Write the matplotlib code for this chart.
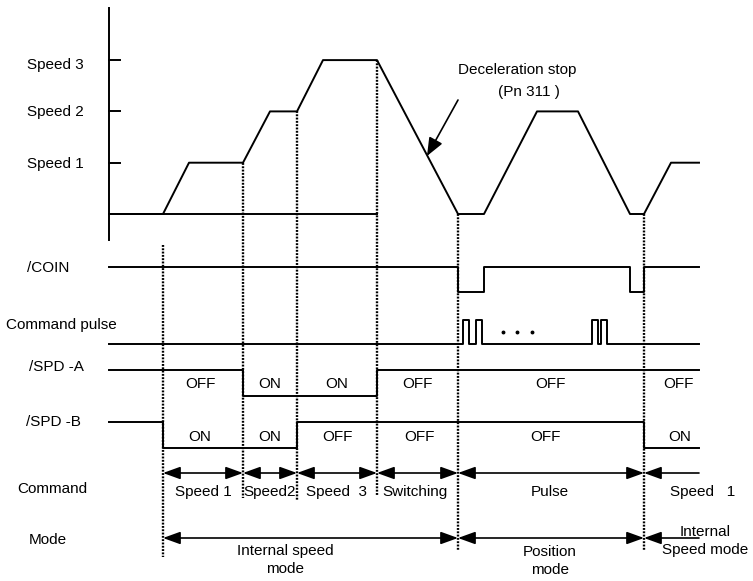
import matplotlib
matplotlib.use("Agg")
import matplotlib.pyplot as plt
import numpy as np

# ---------------- data ----------------
speed_levels = ["Speed 1", "Speed 2", "Speed 3"]
speed_t = [109, 163, 189, 243, 270, 297, 323, 377, 458, 484, 537, 578, 630, 644, 671, 699]
speed_v = [0, 0, 1, 1, 2, 2, 3, 3, 0, 0, 2, 2, 0, 0, 1, 1]

coin_t = [109, 458, 484, 630, 644, 699]
coin_v = [1, 0, 1, 0, 1, 1]

pulse_edges = [(463, 469), (476, 482), (592, 598), (601, 607)]
pulse_dots_t = [503, 517, 532]

spda_t = [109, 243, 377, 699]
spda_v = [1, 0, 1, 1]
spda_labels = [(200, "OFF"), (270, "ON"), (337, "ON"), (417, "OFF"), (550, "OFF"), (678, "OFF")]

spdb_t = [109, 163, 297, 644, 699]
spdb_v = [1, 0, 1, 0, 0]
spdb_labels = [(200, "ON"), (270, "ON"), (337, "OFF"), (419, "OFF"), (545, "OFF"), (680, "ON")]

event_t = [163, 243, 297, 377, 458, 644]
cmd_labels = ["Speed 1", "Speed2", "Speed  3", "Switching", "Pulse", "Speed   1"]
cmd_label_x = [203, 270, 337, 415, 550, 703]
mode_bounds = [163, 458, 644, 699]
mode_labels = ["Internal speed\nmode", "Position\nmode", "Internal\nSpeed mode"]
mode_label_x = [285, 550, 705]
t_end = 699

row_labels = ["/COIN", "Command pulse", "/SPD -A", "/SPD -B", "Command", "Mode"]

# ---------------- layout (pixel space) ----------------
FONT = ["Liberation Sans Narrow", "Liberation Sans", "DejaVu Sans"]
FS = 11
plt.rcParams['font.family'] = FONT

fig = plt.figure(figsize=(7.53, 5.81), dpi=100)
ax = fig.add_axes([0, 0, 1, 1])
ax.set_xlim(0, 753)
ax.set_ylim(581, 0)
ax.axis("off")

LW = 1.4
sp_base, sp_step = 214, 51.3
def sy(v):
    return sp_base - sp_step * np.asarray(v, dtype=float)

# speed axis
ax.plot([109, 109], [8, 240], color="k", lw=LW)
ax.plot([109, 377], [sp_base, sp_base], color="k", lw=LW)
for i, name in enumerate(speed_levels):
    yy = sy(i + 1)
    ax.plot([109, 120], [yy, yy], color="k", lw=LW)
    ax.text(55, yy + (5 if i == 2 else 1), name, ha="center", va="center", fontsize=FS)

ax.plot(speed_t, sy(speed_v), color="k", lw=LW)

# deceleration annotation
ax.text(517, 70, "Deceleration stop", ha="center", va="center", fontsize=FS)
ax.text(529, 92, "(Pn 311 )", ha="center", va="center", fontsize=FS)
ax.annotate("", xy=(427, 156), xytext=(458, 100),
            arrowprops=dict(arrowstyle="-|>,head_length=1.1,head_width=0.45",
                            color="k", lw=1.2, shrinkA=0, shrinkB=0))

# digital rows
def step_row(t, v, hi, lo):
    yv = [lo + (hi - lo) * s for s in v]
    ax.step(t, yv, where="post", color="k", lw=LW)

step_row(coin_t, coin_v, 267, 292)
step_row(spda_t, spda_v, 370, 396)
step_row(spdb_t, spdb_v, 422, 448)

# command pulse
p_lo, p_hi = 344, 320
px, py = [109], [p_lo]
for a, b in pulse_edges:
    px += [a, a, b, b]
    py += [p_lo, p_hi, p_hi, p_lo]
px.append(t_end); py.append(p_lo)
ax.plot(px, py, color="k", lw=LW)
ax.plot(pulse_dots_t, [332] * len(pulse_dots_t), "o", color="k", ms=1.8)

for x, s in spda_labels:
    ax.text(x, 384, s, ha="center", va="center", fontsize=FS)
for x, s in spdb_labels:
    ax.text(x, 437, s, ha="center", va="center", fontsize=FS)

# dotted event lines
dot_top = [245, 163, 111, 60, 214, 214]
dot_bot = [557, 498, 500, 496, 550, 550]
for x, t0, t1 in zip(event_t, dot_top, dot_bot):
    ax.plot([x, x], [t0, t1], color="k", lw=1.7, linestyle=(0, (0.8, 0.6)))

# arrows
def darrow(x0, x1, y, both=True):
    style = "<|-|>" if both else "<|-"
    ax.annotate("", xy=(x1, y), xytext=(x0, y),
                arrowprops=dict(arrowstyle=style + ",head_length=1.05,head_width=0.38",
                                color="k", lw=1.2, shrinkA=0, shrinkB=0))

cmd_y = 473
bounds = event_t + [t_end]
for i in range(len(bounds) - 1):
    darrow(bounds[i], bounds[i + 1], cmd_y, both=(i < len(bounds) - 2))
for x, s in zip(cmd_label_x, cmd_labels):
    ax.text(x, 492, s, ha="center", va="center", fontsize=FS)

mode_y = 538
for i in range(len(mode_bounds) - 1):
    darrow(mode_bounds[i], mode_bounds[i + 1], mode_y, both=(i < len(mode_bounds) - 2))
ax.text(mode_label_x[0], 560, mode_labels[0], ha="center", va="center", fontsize=FS, linespacing=1.35)
ax.text(mode_label_x[1], 561, mode_labels[1], ha="center", va="center", fontsize=FS, linespacing=1.35)
ax.text(mode_label_x[2], 541, mode_labels[2], ha="center", va="center", fontsize=FS, linespacing=1.35)

# row labels
row_pos = [(48, 268), (61, 325), (56, 367), (53, 422), (52, 489), (48, 540)]
for (x, y), s in zip(row_pos, row_labels):
    ax.text(x, y, s, ha="center", va="center", fontsize=FS)

fig.savefig("out.png", dpi=100)
